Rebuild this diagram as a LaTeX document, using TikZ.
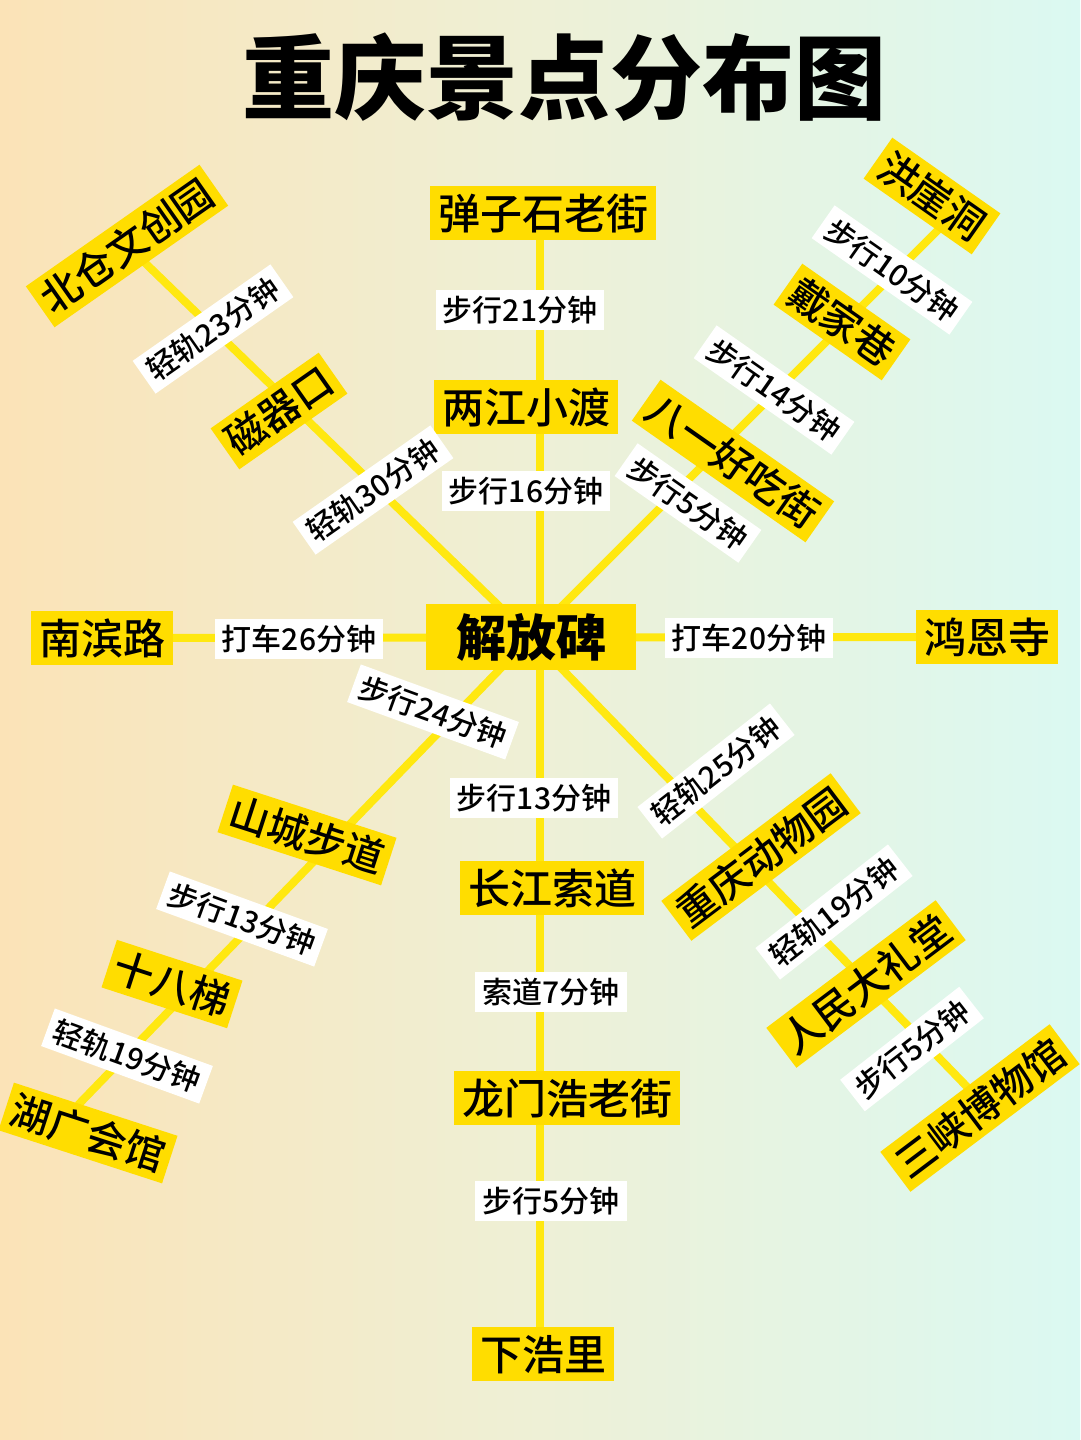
\documentclass[tikz,border=0pt]{standalone}
\usepackage{fontspec}
\setmainfont{Noto Sans CJK SC}
\newfontfamily\medfont{Noto Sans CJK SC}[UprightFont=* Medium]
\usetikzlibrary{calc}
\pgfdeclarelayer{back}
\pgfdeclarelayer{lines}
\pgfsetlayers{back,lines,main}
\definecolor{bgL}{HTML}{FBE3B7}
\definecolor{bgM}{HTML}{EEF0D6}
\definecolor{bgR}{HTML}{DBF9F2}
\definecolor{lineY}{HTML}{FFE810}
\definecolor{boxY}{HTML}{FFDD00}
\begin{document}
\begin{tikzpicture}[x=1pt,y=-1pt,
  spot/.style={fill=boxY, inner xsep=8pt, inner ysep=0pt, minimum height=54pt,
    font=\medfont\fontsize{42}{42}\selectfont, text height=37pt, text depth=5pt},
  rspot/.style={fill=boxY, inner xsep=6pt, inner ysep=0pt, minimum height=50pt,
    font=\medfont\fontsize{40}{40}\selectfont, text height=35.2pt, text depth=4.8pt},
  hub/.style={fill=boxY, inner xsep=30pt, inner ysep=0pt, minimum height=66pt,
    font=\fontsize{50}{50}\selectfont\bfseries, text height=44pt, text depth=6pt},
  tlabel/.style={fill=white, inner xsep=7pt, inner ysep=0pt, minimum height=40pt,
    font=\medfont\fontsize{30}{30}\selectfont, text height=26.4pt, text depth=3.6pt},
  link/.style={draw=lineY, line width=8pt}]
\useasboundingbox (0,0) rectangle (1080,1440);
\begin{pgfonlayer}{back}
\shade[left color=bgL, right color=bgR, middle color=bgM] (0,0) rectangle (1080,1440);
\end{pgfonlayer}

% title
\node[inner sep=0pt, font=\fontsize{92}{92}\selectfont\bfseries, text height=81pt, text depth=11pt] (title) at (564,77) {重庆景点分布图};

% centre and vertical axis
\node[hub] (jfb) at (531,637) {解放碑};
\node[spot] (dzs) at (543,213) {弹子石老街};
\node[tlabel] (l1) at (520,310) {步行21分钟};
\node[spot] (ljxd) at (526,407) {两江小渡};
\node[tlabel] (l2) at (526,491) {步行16分钟};
\node[tlabel] (l5) at (534,798) {步行13分钟};
\node[spot] (cjsd) at (552,888) {长江索道};
\node[tlabel] (l6) at (551,992) {索道7分钟};
\node[spot] (lmh) at (567,1098) {龙门浩老街};
\node[tlabel] (l7) at (551,1201) {步行5分钟};
\node[spot] (xhl) at (543,1354) {下浩里};

% horizontal axis
\node[spot] (nbl) at (102,638) {南滨路};
\node[tlabel] (l3) at (299,639) {打车26分钟};
\node[tlabel] (l4) at (749,638) {打车20分钟};
\node[spot] (hes) at (987,637) {鸿恩寺};

% upper left
\node[rspot, rotate=35] (bcw) at (127,246) {北仓文创园};
\node[tlabel, rotate=35] (l8) at (213,329) {轻轨23分钟};
\node[rspot, rotate=35] (cqk) at (279,411) {磁器口};
\node[tlabel, rotate=35] (l9) at (373,490) {轻轨30分钟};

% upper right
\node[rspot, rotate=-35] (hyd) at (932,196) {洪崖洞};
\node[tlabel, rotate=-35] (l10) at (892,270) {步行10分钟};
\node[rspot, rotate=-35] (djx) at (842,322) {戴家巷};
\node[tlabel, rotate=-35] (l11) at (774,390) {步行14分钟};
\node[rspot, rotate=-35] (byh) at (733,461) {八一好吃街};
\node[tlabel, rotate=-35] (l12) at (688,503) {步行5分钟};

% lower left
\node[tlabel, rotate=-20] (l13) at (433,712) {步行24分钟};
\node[rspot, rotate=-18] (scbd) at (307,835) {山城步道};
\node[tlabel, rotate=-20] (l14) at (242,919) {步行13分钟};
\node[rspot, rotate=-18] (sbt) at (172,984) {十八梯};
\node[tlabel, rotate=-20] (l15) at (127,1056) {轻轨19分钟};
\node[rspot, rotate=-18] (hghg) at (88,1133) {湖广会馆};

% lower right
\node[tlabel, rotate=38] (l16) at (716,771) {轻轨25分钟};
\node[rspot, rotate=37] (cqdw) at (761,857) {重庆动物园};
\node[tlabel, rotate=38] (l17) at (834,912) {轻轨19分钟};
\node[rspot, rotate=37] (rmdl) at (866,984) {人民大礼堂};
\node[tlabel, rotate=38] (l18) at (912,1049) {步行5分钟};
\node[rspot, rotate=37] (sxbw) at (980,1108) {三峡博物馆};

% free ends of the diagonal lines
\coordinate (ulend) at (140,258);
\coordinate (urend) at (950,218);
\coordinate (llend) at (78,1105);
\coordinate (lrend) at (975,1095);
\coordinate (vx) at (540,0);

\begin{pgfonlayer}{lines}
\draw[link] (vx |- dzs.center) -- (vx |- xhl.center);
\draw[link] (nbl.center) -- (hes.center);
\draw[link] (jfb.center) -- (ulend);
\draw[link] (jfb.center) -- (urend);
\draw[link] (jfb.center) -- (llend);
\draw[link] (jfb.center) -- (lrend);
\end{pgfonlayer}
\end{tikzpicture}
\end{document}
